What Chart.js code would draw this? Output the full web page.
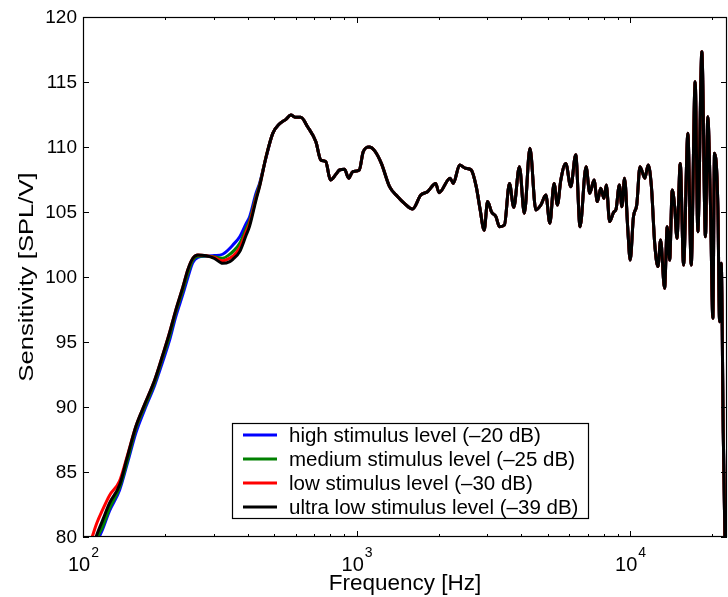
<!DOCTYPE html>
<html>
<head>
<meta charset="utf-8">
<title>Sensitivity</title>
<script src="https://cdn.jsdelivr.net/npm/chart.js@4.4.1/dist/chart.umd.min.js"></script>
<style>
    html, body { margin: 0; padding: 0; background: #fff; }
    #wrap { position: relative; width: 728px; height: 597px; }
</style>
</head>
<body>
<div id="wrap"><canvas id="sensChart"></canvas></div>
<script>
// --- Data ---
// Below ~470 Hz the four stimulus levels separate, so each has its own values
const freqLow = [104, 108, 112, 118, 125, 136, 145, 156, 168, 183, 195, 207, 218, 232, 242, 252, 263, 282, 302, 324, 344, 353, 374, 395, 406, 429, 442, 467];
const highLow   = [77.6, 78.4, 79.5, 80.6, 82.0, 83.6, 85.6, 88.0, 89.8, 91.7, 93.4, 95.1, 96.9, 98.7, 100.0, 101.1, 101.5, 101.6, 101.65, 101.75, 102.2, 102.46, 103.1, 104.13, 104.6, 106.44, 107.2, 109.2];
const mediumLow = [77.8, 78.7, 79.8, 80.8, 82.2, 83.8, 85.8, 88.3, 90.0, 91.9, 93.7, 95.4, 97.2, 99.0, 100.3, 101.3, 101.6, 101.62, 101.55, 101.45, 101.75, 101.95, 102.6, 103.75, 104.3, 106.2, 107.1, 109.25];
const lowLow    = [79.0, 80.0, 81.0, 82.1, 83.2, 84.3, 86.2, 88.5, 90.2, 92.1, 93.9, 95.7, 97.4, 99.25, 100.6, 101.44, 101.7, 101.64, 101.5, 101.25, 101.45, 101.6, 102.25, 103.49, 104.1, 106.05, 107.0, 109.25];
const ultraLow  = [78.2, 79.1, 80.1, 81.3, 82.6, 84.0, 86.1, 88.5, 90.2, 92.1, 93.9, 95.67, 97.4, 99.25, 100.6, 101.44, 101.7, 101.64, 101.44, 101.05, 101.18, 101.36, 101.95, 103.23, 103.87, 105.92, 106.95, 109.25];

// Above ~470 Hz all four curves lie on top of each other
const freqHigh = [494, 522, 552, 575, 599, 625, 662, 710, 740, 772, 802, 842, 866, 903, 936, 968, 1023, 1058, 1112, 1165, 1232, 1320, 1414, 1495, 1603, 1717, 1817, 1946, 2002, 2198, 2257, 2381, 2500, 2625, 2738, 2831, 2927, 3012, 3115, 3231, 3330, 3472, 3621, 3755, 3938, 4105, 4303, 4523, 4717, 4920, 5087, 5272, 5422, 5580, 5818, 6067, 6327, 6560, 6900, 7118, 7380, 7589, 7805, 8026, 8184, 8414, 8716, 8880, 9132, 9331, 9543, 9810, 10007, 10284, 10571, 10867, 11322, 11638, 11963, 12297, 12641, 12925, 13365, 13663, 13944, 14257, 14547, 14833, 15251, 15682, 16260, 16720, 17290, 17684, 18290, 18855, 19227, 19672, 20063, 20347, 20928, 21230, 21527, 21900, 22600];
const sharedHigh = [111.05, 111.77, 112.13, 112.46, 112.28, 112.28, 111.56, 110.4, 109.0, 108.87, 107.46, 107.92, 108.23, 108.28, 107.6, 108.1, 108.23, 109.64, 110.0, 109.7, 108.74, 106.95, 106.18, 105.67, 105.23, 106.3, 106.56, 107.2, 106.49, 107.6, 107.2, 108.62, 108.36, 108.23, 106.95, 105.15, 103.6, 105.8, 105.0, 104.64, 103.87, 104.0, 107.2, 105.36, 108.49, 104.9, 109.9, 105.15, 105.54, 106.3, 104.13, 107.2, 105.54, 107.46, 108.74, 106.95, 109.4, 103.87, 108.49, 106.44, 107.46, 105.8, 106.82, 106.05, 107.08, 104.26, 105.0, 105.2, 107.08, 105.41, 107.6, 103.6, 101.3, 104.64, 105.54, 108.49, 107.6, 108.62, 106.95, 102.59, 100.8, 102.85, 99.13, 103.87, 101.3, 106.7, 105.41, 102.98, 108.74, 100.92, 111.05, 100.92, 115.02, 103.49, 117.33, 103.1, 112.33, 105.41, 96.82, 109.51, 105.41, 96.56, 101.05, 88.0, 70.0];

const seriesLabels = [
    'high stimulus level (\u201320 dB)',
    'medium stimulus level (\u201325 dB)',
    'low stimulus level (\u201330 dB)',
    'ultra low stimulus level (\u201339 dB)'
];
const seriesColors = ['#0000ff', '#008000', '#ff0000', '#000000'];
const seriesLow = [highLow, mediumLow, lowLow, ultraLow];

// --- Axis config ---
const xMin = 100, xMax = 22600;
const yMin = 80, yMax = 120;
const yTicks = [80, 85, 90, 95, 100, 105, 110, 115, 120];
const xMajorTicks = [100, 1000, 10000];
const xMajorExp = ['2', '3', '4'];
const xMinorTicks = [200, 300, 400, 500, 600, 700, 800, 900, 2000, 3000, 4000, 5000, 6000, 7000, 8000, 9000, 20000];

const FONT = '"Liberation Sans", Arial, Helvetica, sans-serif';

function buildPoints(lowVals) {
    const xs = freqLow.concat(freqHigh);
    const ys = lowVals.concat(sharedHigh);
    return xs.map((x, i) => ({ x: x, y: ys[i] }));
}

// Frame, inward ticks, tick labels, axis titles and the boxed legend
const matlabAxes = {
    id: 'matlabAxes',
    afterDatasetsDraw(chart) {
        const ctx = chart.ctx;
        const area = chart.chartArea;
        const xs = chart.scales.x;
        const ys = chart.scales.y;

        ctx.save();
        ctx.strokeStyle = '#000';
        ctx.lineWidth = 1;

        // y ticks on both sides
        yTicks.forEach(v => {
            const py = Math.round(ys.getPixelForValue(v)) + 0.5;
            ctx.beginPath();
            ctx.moveTo(area.left, py); ctx.lineTo(area.left + 6, py);
            ctx.moveTo(area.right, py); ctx.lineTo(area.right - 6, py);
            ctx.stroke();
        });

        // x ticks, top and bottom
        const drawXTick = (v, len) => {
            const px = Math.round(xs.getPixelForValue(v)) + 0.5;
            ctx.beginPath();
            ctx.moveTo(px, area.bottom); ctx.lineTo(px, area.bottom - len);
            ctx.moveTo(px, area.top); ctx.lineTo(px, area.top + len);
            ctx.stroke();
        };
        xMajorTicks.forEach(v => drawXTick(v, 6));
        xMinorTicks.forEach(v => drawXTick(v, 3));

        // frame
        ctx.lineWidth = 1.2;
        ctx.strokeRect(area.left + 0.5, area.top + 0.5, area.right - area.left - 1, area.bottom - area.top - 1);

        // y tick labels
        ctx.fillStyle = '#000';
        ctx.font = '19px ' + FONT;
        ctx.textAlign = 'right';
        ctx.textBaseline = 'middle';
        yTicks.forEach(v => {
            ctx.fillText(String(v), area.left - 6, ys.getPixelForValue(v) + 1);
        });

        // x tick labels as 10^n
        ctx.textBaseline = 'alphabetic';
        ctx.textAlign = 'left';
        xMajorTicks.forEach((v, i) => {
            const px = xs.getPixelForValue(v);
            ctx.font = '20px ' + FONT;
            const wBase = ctx.measureText('10').width;
            ctx.font = '14px ' + FONT;
            const wExp = ctx.measureText(xMajorExp[i]).width;
            const x0 = px - (wBase + wExp) / 2;
            ctx.font = '20px ' + FONT;
            ctx.fillText('10', x0, 571);
            ctx.font = '14px ' + FONT;
            ctx.fillText(xMajorExp[i], x0 + wBase + 1, 557);
        });

        // axis titles
        ctx.font = '22.5px ' + FONT;
        ctx.textAlign = 'center';
        ctx.fillText('Frequency [Hz]', (area.left + area.right) / 2, 590);
        ctx.save();
        ctx.translate(33, (area.top + area.bottom) / 2);
        ctx.rotate(-Math.PI / 2);
        ctx.scale(1.22, 1);
        ctx.font = '21px ' + FONT;
        ctx.fillText('Sensitivity [SPL/V]', 0, 0);
        ctx.restore();

        // legend box
        const lg = { left: 232, top: 423, right: 589, bottom: 519 };
        ctx.fillStyle = '#fff';
        ctx.fillRect(lg.left, lg.top, lg.right - lg.left, lg.bottom - lg.top);
        ctx.lineWidth = 1.2;
        ctx.strokeStyle = '#000';
        ctx.strokeRect(lg.left + 0.5, lg.top + 0.5, lg.right - lg.left - 1, lg.bottom - lg.top - 1);
        ctx.font = '20.5px ' + FONT;
        ctx.textAlign = 'left';
        ctx.textBaseline = 'middle';
        chart.data.datasets.forEach((ds, i) => {
            const rowY = 435 + i * 24;
            ctx.strokeStyle = ds.borderColor;
            ctx.lineWidth = 3;
            ctx.beginPath();
            ctx.moveTo(243, rowY);
            ctx.lineTo(277, rowY);
            ctx.stroke();
            ctx.fillStyle = '#000';
            ctx.fillText(ds.label, 289, rowY + 1);
        });
        ctx.restore();
    }
};

const datasets = seriesLabels.map((label, i) => ({
    label: label,
    data: buildPoints(seriesLow[i]),
    borderColor: seriesColors[i],
    backgroundColor: seriesColors[i],
    borderWidth: 3,
    pointRadius: 0,
    fill: false,
    cubicInterpolationMode: 'monotone',
    // black drawn last so it sits on top
    order: seriesLabels.length - 1 - i
}));

new Chart(document.getElementById('sensChart'), {
    type: 'line',
    data: { datasets: datasets },
    options: {
        responsive: true,
        maintainAspectRatio: false,
        animation: false,
        layout: { padding: { left: 83, top: 17, right: 1, bottom: 60 } },
        scales: {
            x: { type: 'logarithmic', min: xMin, max: xMax, display: false },
            y: { type: 'linear', min: yMin, max: yMax, display: false }
        },
        plugins: {
            legend: { display: false },
            tooltip: { enabled: false }
        }
    },
    plugins: [matlabAxes]
});
</script>
</body>
</html>
